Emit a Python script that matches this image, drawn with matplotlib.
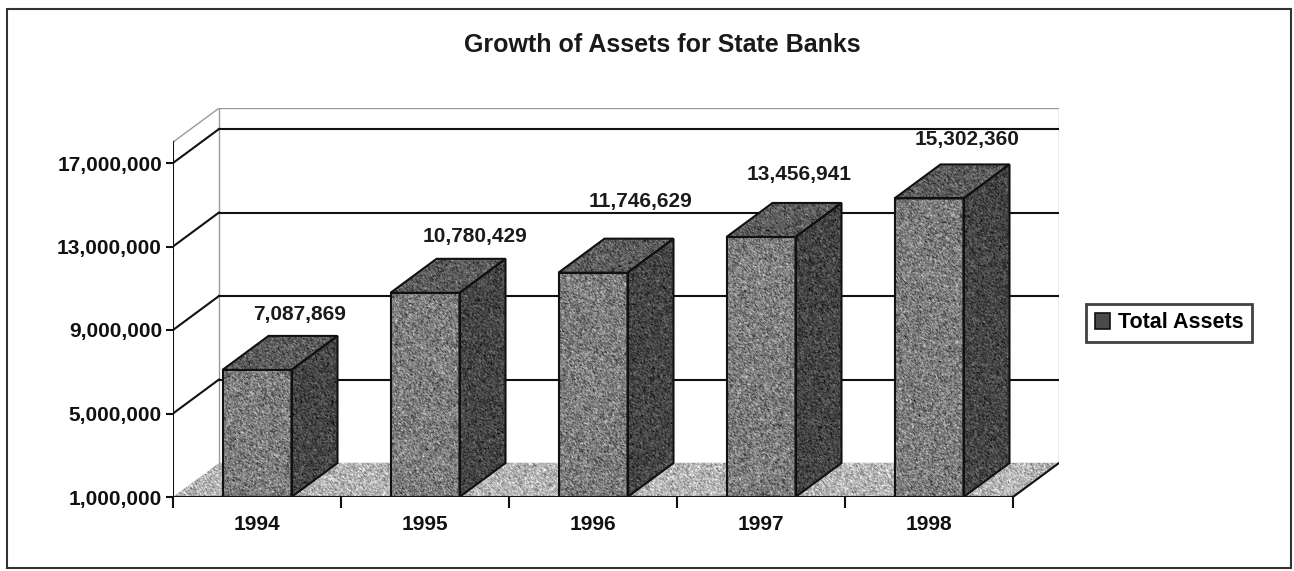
import numpy as np
import matplotlib
matplotlib.use("Agg")
import matplotlib.pyplot as plt
from matplotlib.path import Path
from matplotlib.patches import Rectangle, Polygon, Patch
from matplotlib.ticker import FuncFormatter

# ---- data ----
years = ["1994", "1995", "1996", "1997", "1998"]
total_assets = [7087869, 10780429, 11746629, 13456941, 15302360]
y_ticks = [1_000_000, 5_000_000, 9_000_000, 13_000_000, 17_000_000]
y_min, y_max = 1_000_000, 18_000_000
title = "Growth of Assets for State Banks"
series_name = "Total Assets"

# ---- figure / layout (pixels) ----
W, H, DPI = 1294, 571, 100
plt.rcParams['font.family'] = ['Liberation Sans', 'DejaVu Sans']
plt.rcParams['font.weight'] = 'bold'

fig = plt.figure(figsize=(W / DPI, H / DPI), dpi=DPI)

x0_px, y0_px = 173, 497          # front-left-bottom corner of the plot box
cat_px = 168                     # pixels per category
val_px = 83.5 / 4e6              # pixels per unit value
depth_x_px, depth_y_px = 46, 34  # oblique depth of the 3-D box
bar_w = 69 / cat_px
# value-label placement relative to the top front edge of each bar (pixels)
label_dx_px = [43, 50, 48, 38, 38]
label_dy_px = [55, 56, 71, 62, 59]

n = len(years)
ddx = depth_x_px / cat_px
ddy = depth_y_px / val_px
xl = (-0.5, n - 0.5 + ddx)
yl = (y_min, y_max + ddy)
ax_w = (xl[1] - xl[0]) * cat_px
ax_h = (yl[1] - yl[0]) * val_px

ax = fig.add_axes([x0_px / W, (H - y0_px) / H, ax_w / W, ax_h / H])
ax.set_facecolor('none')
for s in ax.spines.values():
    s.set_visible(False)

rng = np.random.default_rng(7)


def grain(mean, spread):
    a = rng.normal(0, 1, (int(ax_h) + 2, int(ax_w) + 2))
    a = (a + np.roll(a, 1, 0) + np.roll(a, 1, 1)) / 1.8
    return np.clip(mean + spread * a, 0, 1)


def textured(polys, mean, spread, z):
    verts, codes = [], []
    for p in polys:
        verts += list(p) + [p[0]]
        codes += [Path.MOVETO] + [Path.LINETO] * (len(p) - 1) + [Path.CLOSEPOLY]
    path = Path(verts, codes)
    im = ax.imshow(grain(mean, spread), cmap='gray', vmin=0, vmax=1,
                   extent=(*xl, *yl), origin='lower', aspect='auto',
                   interpolation='nearest', zorder=z)
    im.set_clip_path(path, transform=ax.transData)


# back wall and its edges
ax.add_patch(Rectangle((-0.5 + ddx, y_min + ddy), n, y_max - y_min,
                       facecolor='white', edgecolor='#9a9a9a', lw=1.0, zorder=0))
ax.plot([-0.5, -0.5 + ddx], [y_max, y_max + ddy], color='#9a9a9a', lw=1.0, zorder=0.5)

# gridlines on back wall and left wall
for v in y_ticks[1:]:
    ax.plot([-0.5 + ddx, n - 0.5 + ddx], [v + ddy, v + ddy], color='#111111', lw=1.5, zorder=1)
    ax.plot([-0.5, -0.5 + ddx], [v, v + ddy], color='#111111', lw=1.5, zorder=1)

# floor
floor = [(-0.5, y_min), (n - 0.5, y_min), (n - 0.5 + ddx, y_min + ddy), (-0.5 + ddx, y_min + ddy)]
ax.add_patch(Polygon(floor, facecolor='white', edgecolor='none', zorder=1.5))
textured([floor], 0.71, 0.10, 2)

# bars
fronts, sides, tops = [], [], []
for i, v in enumerate(total_assets):
    l, r = i - bar_w / 2, i + bar_w / 2
    fronts.append([(l, y_min), (r, y_min), (r, v), (l, v)])
    sides.append([(r, y_min), (r + ddx, y_min + ddy), (r + ddx, v + ddy), (r, v)])
    tops.append([(l, v), (r, v), (r + ddx, v + ddy), (l + ddx, v + ddy)])
for group in (fronts, sides, tops):
    for p in group:
        ax.add_patch(Polygon(p, facecolor='white', edgecolor='none', zorder=2.5))
textured(fronts, 0.49, 0.10, 3)
textured(sides, 0.27, 0.07, 3)
textured(tops, 0.36, 0.08, 3)
for group in (fronts, sides, tops):
    for p in group:
        ax.add_patch(Polygon(p, fill=False, edgecolor='#111111', lw=1.5,
                             joinstyle='miter', zorder=4))

# axis lines
ax.plot([-0.5, -0.5], [y_min, y_max], color='#111111', lw=1.5, zorder=5)
ax.plot([-0.5, n - 0.5], [y_min, y_min], color='#111111', lw=1.5, zorder=5)
ax.plot([n - 0.5, n - 0.5 + ddx], [y_min, y_min + ddy], color='#111111', lw=1.5, zorder=5)

# value labels
for i, v in enumerate(total_assets):
    ax.annotate(f"{v:,}", (i, v),
                xytext=(label_dx_px[i] * 72 / DPI, label_dy_px[i] * 72 / DPI),
                textcoords='offset points', ha='center', va='center',
                fontsize=15, fontweight='bold', color='#1a1a1a', zorder=6)

# ticks
ax.set_yticks(y_ticks)
ax.yaxis.set_major_formatter(FuncFormatter(lambda v, _: f"{v:,.0f}"))
ax.tick_params(axis='y', direction='out', length=5, width=1.5, pad=3,
               labelsize=15, colors='#111111')
ax.set_xticks(range(n))
ax.set_xticklabels(years)
ax.set_xticks(np.arange(-0.5, n), minor=True)
ax.tick_params(axis='x', which='major', length=0, pad=13, labelsize=15, colors='#111111')
ax.tick_params(axis='x', which='minor', direction='out', length=8, width=1.5, color='#111111')
ax.set_xlim(xl)
ax.set_ylim(yl)

# title
fig.text(662 / W, 1 - 45 / H, title, ha='center', va='center',
         fontsize=18, fontweight='bold', color='#1a1a1a')

# legend
leg = fig.legend(handles=[Patch(facecolor='#4a4a4a', edgecolor='#111111', lw=1.2)],
                 labels=[series_name], loc='center left',
                 bbox_to_anchor=(1086 / W, 1 - 323 / H), frameon=True,
                 fancybox=False, edgecolor='#111111', fontsize=15.5,
                 borderaxespad=0, handlelength=0.72, handleheight=0.72,
                 handletextpad=0.36, borderpad=0.4)
leg.get_frame().set_linewidth(2.0)

# outer frame
fig.add_artist(Rectangle((7 / W, (H - 568) / H), 1284 / W, 559 / H,
                         transform=fig.transFigure, fill=False,
                         edgecolor='#333333', lw=1.5))

fig.savefig("out.png", dpi=DPI, facecolor='white')
